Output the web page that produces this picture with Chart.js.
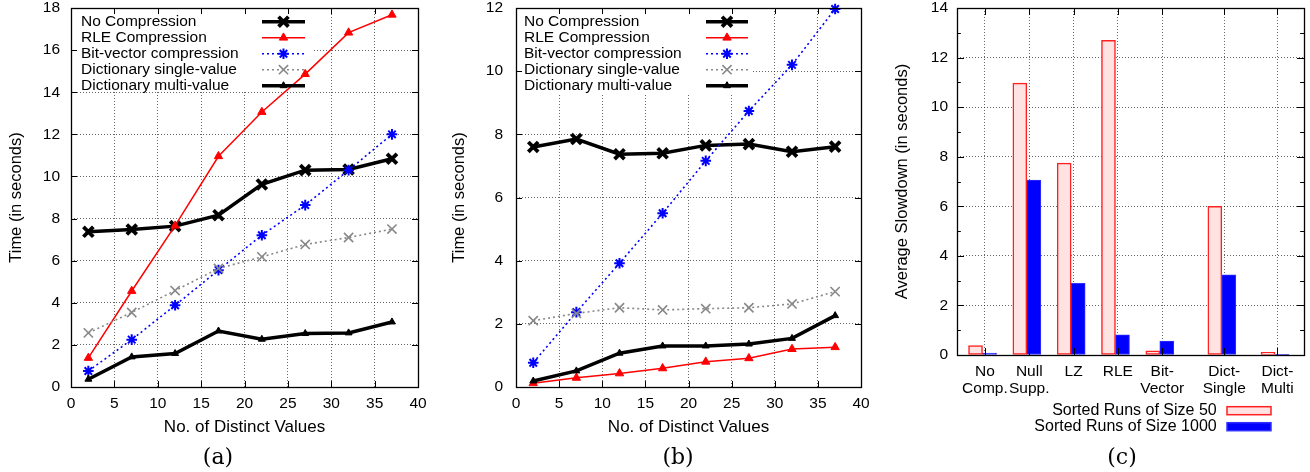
<!DOCTYPE html>
<html>
<head>
<meta charset="utf-8">
<script src="https://cdn.jsdelivr.net/npm/chart.js@4.4.1/dist/chart.umd.min.js"></script>
<style>
  html, body { margin: 0; padding: 0; background: #fff; }
  body { width: 1310px; height: 472px; position: relative; overflow: hidden; }
  canvas { position: absolute; top: 0; }
  .cap { position: absolute; top: 444px; line-height: 26px; font-family: "DejaVu Serif", serif; font-size: 22px; transform: translateX(-50%); color: #000; }
</style>
</head>
<body>
<canvas id="chartA" width="440" height="472" style="left:0"></canvas>
<canvas id="chartB" width="440" height="472" style="left:440px"></canvas>
<canvas id="chartC" width="430" height="472" style="left:880px"></canvas>
<div class="cap" style="left:218px">(a)</div>
<div class="cap" style="left:678px">(b)</div>
<div class="cap" style="left:1122px">(c)</div>
<script>
/* ---- data ---- */
const distinctValues = [2, 7, 12, 17, 22, 27, 32, 37];
const seriesNames = ['No Compression', 'RLE Compression', 'Bit-vector compression',
                     'Dictionary single-value', 'Dictionary multi-value'];

// (a)
const noCompA     = [7.37, 7.48, 7.64, 8.16, 9.62, 10.30, 10.33, 10.84];
const rleA        = [1.38, 4.56, 7.66, 10.96, 13.06, 14.86, 16.83, 17.68];
const bitVecA     = [0.76, 2.25, 3.88, 5.55, 7.21, 8.64, 10.30, 12.00];
const dictSingleA = [2.57, 3.54, 4.58, 5.63, 6.18, 6.77, 7.10, 7.50];
const dictMultiA  = [0.37, 1.43, 1.59, 2.66, 2.27, 2.54, 2.57, 3.09];

// (b)
const noCompB     = [7.60, 7.85, 7.37, 7.40, 7.65, 7.69, 7.45, 7.61];
const rleB        = [0.12, 0.29, 0.43, 0.59, 0.80, 0.91, 1.20, 1.26];
const bitVecB     = [0.77, 2.37, 3.92, 5.50, 7.16, 8.74, 10.20, 11.97];
const dictSingleB = [2.10, 2.33, 2.51, 2.44, 2.48, 2.51, 2.63, 3.02];
const dictMultiB  = [0.19, 0.51, 1.07, 1.30, 1.30, 1.36, 1.54, 2.26];

// (c)
const codecs   = [['No', 'Comp.'], ['Null', 'Supp.'], 'LZ', 'RLE', ['Bit-', 'Vector'], ['Dict-', 'Single'], ['Dict-', 'Multi']];
const runs50   = [0.38, 10.97, 7.74, 12.70, 0.17, 6.00, 0.11];
const runs1000 = [0.08, 7.06, 2.89, 0.81, 0.56, 3.23, 0.03];
const barNames = ['Sorted Runs of Size 50', 'Sorted Runs of Size 1000'];

/* ---- layout / style ---- */
const codecSlots = [1, 2, 3, 4, 5, 6.4, 7.6];   // x slot of each group on the (c) axis
const BAR_SHIFT = 0.054;
const FONT = '"Liberation Sans", Arial, sans-serif';
const GRID = 'rgba(0,0,0,0.6)';

const LINE_STYLE = [
  { color: '#000000', width: 3.5, dash: [],     point: 'crossRot', radius: 7,   pw: 3.8 },
  { color: '#ff0000', width: 1.5, dash: [],     point: 'triangle', radius: 4.8, pw: 1 },
  { color: '#0000ff', width: 1.6, dash: [2, 3], point: 'star',     radius: 5.3, pw: 2 },
  { color: '#888888', width: 1.6, dash: [2, 3], point: 'crossRot', radius: 6.5, pw: 1.6 },
  { color: '#000000', width: 3.5, dash: [],     point: 'triangle', radius: 4,   pw: 1 }
];

function drawMarker(ctx, style, r, x, y, color, lw) {
  ctx.save();
  ctx.setLineDash([]);
  ctx.strokeStyle = color;
  ctx.fillStyle = color;
  ctx.lineWidth = lw;
  ctx.beginPath();
  if (style === 'triangle') {
    for (let k = 0; k < 3; k++) {
      const a = k * 2 * Math.PI / 3;
      const px = x + Math.sin(a) * r, py = y - Math.cos(a) * r;
      if (k === 0) ctx.moveTo(px, py); else ctx.lineTo(px, py);
    }
    ctx.closePath();
    ctx.fill();
    ctx.stroke();
  } else {
    const arms = style === 'star' ? [0, 45, 90, 135] : [45, 135];
    arms.forEach(d => {
      const a = d * Math.PI / 180;
      ctx.moveTo(x - Math.cos(a) * r, y - Math.sin(a) * r);
      ctx.lineTo(x + Math.cos(a) * r, y + Math.sin(a) * r);
    });
    ctx.stroke();
  }
  ctx.restore();
}

// gnuplot look: inward mirror ticks, full border, opaque key
const gnuFrame = {
  id: 'gnuFrame',
  beforeDatasetsDraw(chart, args, opts) {
    if (!opts.keyBox) return;
    const b = opts.keyBox;
    chart.ctx.save();
    chart.ctx.fillStyle = '#fff';
    chart.ctx.fillRect(b[0], b[1], b[2] - b[0], b[3] - b[1]);
    chart.ctx.restore();
  },
  afterDraw(chart, args, opts) {
    const { ctx, chartArea: a, scales } = chart;
    const L = opts.tickLen || 6;
    ctx.save();
    ctx.strokeStyle = '#000';
    ctx.lineWidth = 1;
    ctx.setLineDash([]);
    ctx.beginPath();
    scales.x.ticks.forEach(t => {
      const px = Math.round(scales.x.getPixelForValue(t.value)) + 0.5;
      ctx.moveTo(px, a.bottom); ctx.lineTo(px, a.bottom - L);
      ctx.moveTo(px, a.top); ctx.lineTo(px, a.top + L);
    });
    scales.y.ticks.forEach(t => {
      const len = (opts.minorOdd && t.value % 2 !== 0) ? L * 0.55 : L;
      const py = Math.round(scales.y.getPixelForValue(t.value)) + 0.5;
      ctx.moveTo(a.left, py); ctx.lineTo(a.left + len, py);
      ctx.moveTo(a.right, py); ctx.lineTo(a.right - len, py);
    });
    ctx.stroke();
    ctx.lineWidth = 1.3;
    ctx.strokeRect(Math.round(a.left) + 0.5, Math.round(a.top) + 0.5,
                   Math.round(a.width), Math.round(a.height));

    ctx.font = opts.keyFont;
    ctx.fillStyle = '#000';
    ctx.textBaseline = 'middle';
    const k = opts.key;
    if (k && k.type === 'line') {
      chart.data.datasets.forEach((ds, i) => {
        const y = k.y0 + i * k.step;
        ctx.textAlign = 'left';
        ctx.fillText(ds.label, k.textX, y);
        ctx.save();
        ctx.strokeStyle = ds.borderColor;
        ctx.lineWidth = ds.borderWidth;
        ctx.setLineDash(ds.borderDash);
        ctx.beginPath();
        ctx.moveTo(k.x1, y); ctx.lineTo(k.x2, y);
        ctx.stroke();
        ctx.restore();
        drawMarker(ctx, ds.pointStyle, ds.pointRadius, (k.x1 + k.x2) / 2, y, ds.borderColor, ds.pointBorderWidth);
      });
    } else if (k && k.type === 'bar') {
      chart.data.datasets.forEach((ds, i) => {
        const y = k.y0 + i * k.step;
        ctx.textAlign = 'right';
        ctx.fillText(ds.label, k.textX, y);
        ctx.fillStyle = ds.backgroundColor;
        ctx.fillRect(k.x1, y - 4, k.x2 - k.x1, 8);
        ctx.strokeStyle = ds.borderColor;
        ctx.lineWidth = 1.5;
        ctx.strokeRect(k.x1, y - 4, k.x2 - k.x1, 8);
        ctx.fillStyle = '#000';
      });
    }
    ctx.restore();
  }
};

function fixX(h) {
  return s => { s.height = h; s.paddingLeft = 0; s.paddingRight = 0; };
}
function fixY(w) {
  return s => { s.width = w; s.paddingTop = 0; s.paddingBottom = 0; };
}

function lineChart(id, seriesValues, yMax, geo) {
  const datasets = seriesValues.map((vals, i) => {
    const s = LINE_STYLE[i];
    return {
      label: seriesNames[i],
      data: vals.map((v, j) => ({ x: distinctValues[j], y: v })),
      borderColor: s.color,
      backgroundColor: s.color,
      borderWidth: s.width,
      borderDash: s.dash,
      pointStyle: s.point,
      pointRadius: s.radius,
      pointBorderWidth: s.pw,
      pointBackgroundColor: s.color,
      pointBorderColor: s.color,
      tension: 0,
      clip: false,
      order: seriesValues.length - i
    };
  });
  return new Chart(document.getElementById(id), {
    type: 'line',
    data: { datasets },
    options: {
      responsive: false,
      animation: false,
      events: [],
      layout: { autoPadding: false, padding: { left: 0, right: geo.padRight, top: 8, bottom: 0 } },
      plugins: {
        legend: { display: false },
        tooltip: { enabled: false },
        gnuFrame: {
          tickLen: 6,
          keyBox: geo.keyBox,
          keyFont: '15.5px ' + FONT,
          key: { type: 'line', textX: geo.keyText, x1: geo.keyX1, x2: geo.keyX2, y0: 21.7, step: 16 }
        }
      },
      scales: {
        x: {
          type: 'linear', min: 0, max: 40,
          ticks: { stepSize: 5, padding: 8.5, color: '#000', font: { family: FONT, size: 15.5, lineHeight: 1 } },
          grid: { color: GRID, lineWidth: 1, drawTicks: false },
          border: { display: false, dash: [1, 2] },
          title: { display: true, text: 'No. of Distinct Values', color: '#000',
                   font: { family: FONT, size: 17, lineHeight: 1.2 }, padding: { top: 0, bottom: 34.8 } },
          afterFit: fixX(85)
        },
        y: {
          min: 0, max: yMax,
          ticks: { stepSize: 2, padding: geo.yPad, color: '#000', font: { family: FONT, size: 15.5, lineHeight: 1 } },
          grid: { color: GRID, lineWidth: 1, drawTicks: false },
          border: { display: false, dash: [1, 2] },
          title: { display: true, text: 'Time (in seconds)', color: '#000',
                   font: { family: FONT, size: 16.5, lineHeight: 1.2 }, padding: { top: geo.titlePad, bottom: 0 } },
          afterFit: fixY(geo.axisW)
        }
      }
    },
    plugins: [gnuFrame]
  });
}

lineChart('chartA', [noCompA, rleA, bitVecA, dictSingleA, dictMultiA], 18, {
  padRight: 22, axisW: 71, yPad: 11, titlePad: 6.5,
  keyBox: [72, 9, 312, 91], keyText: 81, keyX1: 262, keyX2: 305
});

lineChart('chartB', [noCompB, rleB, bitVecB, dictSingleB, dictMultiB], 12, {
  padRight: 19, axisW: 76, yPad: 13, titlePad: 9.3,
  keyBox: [77, 9, 312, 93], keyText: 84, keyX1: 266, keyX2: 308
});

new Chart(document.getElementById('chartC'), {
  type: 'bar',
  data: {
    datasets: [
      {
        label: barNames[0],
        data: runs50.map((v, i) => ({ x: codecSlots[i] - BAR_SHIFT, y: v })),
        backgroundColor: '#ffe3e3', borderColor: '#ff2020', borderWidth: 1.5,
        borderSkipped: false, barThickness: 14
      },
      {
        label: barNames[1],
        data: runs1000.map((v, i) => ({ x: codecSlots[i] - BAR_SHIFT, y: v })),
        backgroundColor: '#0000ff', borderColor: '#3030ff', borderWidth: 1,
        borderSkipped: false, barThickness: 14
      }
    ]
  },
  options: {
    responsive: false,
    animation: false,
    events: [],
    layout: { autoPadding: false, padding: { left: 0, right: 6, top: 8, bottom: 0 } },
    plugins: {
      legend: { display: false },
      tooltip: { enabled: false },
      gnuFrame: {
        tickLen: 7, minorOdd: true,
        keyFont: '16px ' + FONT,
        key: { type: 'bar', textX: 336.7, x1: 347, x2: 391, y0: 410.7, step: 16 }
      }
    },
    scales: {
      x: {
        type: 'linear', min: 0.37, max: 8.2, offset: false,
        afterBuildTicks: s => { s.ticks = codecSlots.map(v => ({ value: v })); },
        ticks: { autoSkip: false, maxRotation: 0, padding: 8.3, color: '#000',
                 font: { family: FONT, size: 15.5, lineHeight: 1.08 },
                 callback: (v, i) => codecs[i] },
        grid: { color: GRID, lineWidth: 1, drawTicks: false, offset: false },
        border: { display: false, dash: [1, 2] },
        afterFit: fixX(117)
      },
      y: {
        min: 0, max: 14,
        ticks: { stepSize: 1, padding: 9, color: '#000', font: { family: FONT, size: 15.5, lineHeight: 1 },
                 callback: v => (v % 2 ? '' : v) },
        grid: { color: c => (c.tick && c.tick.value % 2 ? 'rgba(0,0,0,0)' : GRID), lineWidth: 1, drawTicks: false },
        border: { display: false, dash: [1, 2] },
        title: { display: true, text: 'Average Slowdown (in seconds)', color: '#000',
                 font: { family: FONT, size: 16.5, lineHeight: 1.2 }, padding: { top: 12.8, bottom: 0 } },
        afterFit: fixY(77)
      }
    }
  },
  plugins: [gnuFrame]
});
</script>
</body>
</html>
